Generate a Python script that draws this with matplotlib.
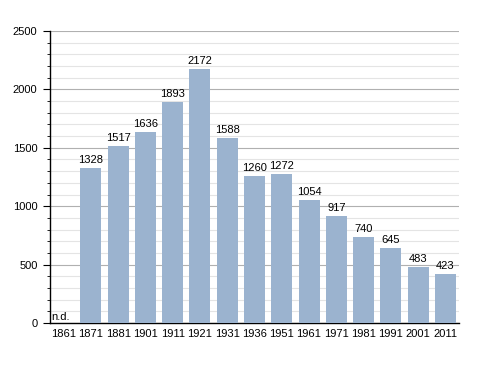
import numpy as np
import matplotlib.pyplot as plt
from matplotlib.ticker import MultipleLocator

plt.rcParams["font.family"] = ["Liberation Sans", "DejaVu Sans"]

years = ["1861", "1871", "1881", "1901", "1911", "1921", "1931", "1936",
         "1951", "1961", "1971", "1981", "1991", "2001", "2011"]
population = [0, 1328, 1517, 1636, 1893, 2172, 1588, 1260,
              1272, 1054, 917, 740, 645, 483, 423]
labels = ["n.d.", "1328", "1517", "1636", "1893", "2172", "1588", "1260",
          "1272", "1054", "917", "740", "645", "483", "423"]

fig = plt.figure(figsize=(4.88, 3.73), dpi=100)
ax = fig.add_axes([0.1025, 0.134, 0.838, 0.783])

x = np.arange(len(years))
ax.bar(x, population, width=0.77, color="#9bb3cf", zorder=3)

for i, (v, lbl) in enumerate(zip(population, labels)):
    if v == 0:
        ax.text(i - 0.45, 10, lbl, ha="left", va="bottom", fontsize=8, zorder=4)
    else:
        ax.text(i, v + 25, lbl, ha="center", va="bottom", fontsize=8, zorder=4)

ax.set_xlim(-0.5, len(years) - 0.5)
ax.set_ylim(0, 2500)
ax.set_xticks(x)
ax.set_xticklabels(years, fontsize=8)
ax.set_yticks([0, 500, 1000, 1500, 2000, 2500])
ax.yaxis.set_minor_locator(MultipleLocator(100))
ax.tick_params(axis="y", which="major", labelsize=8, length=5, direction="out", pad=4)
ax.tick_params(axis="y", which="minor", length=2.5, direction="out")
ax.tick_params(axis="x", length=0, pad=4)

ax.grid(axis="y", which="major", color="#b0b0b0", linewidth=0.8, zorder=1)
ax.grid(axis="y", which="minor", color="#e4e4e4", linewidth=0.8, zorder=0)
for s in ("top", "right"):
    ax.spines[s].set_visible(False)
ax.spines["left"].set_linewidth(1.0)
ax.spines["bottom"].set_linewidth(1.0)

fig.savefig("out.png", dpi=100)
